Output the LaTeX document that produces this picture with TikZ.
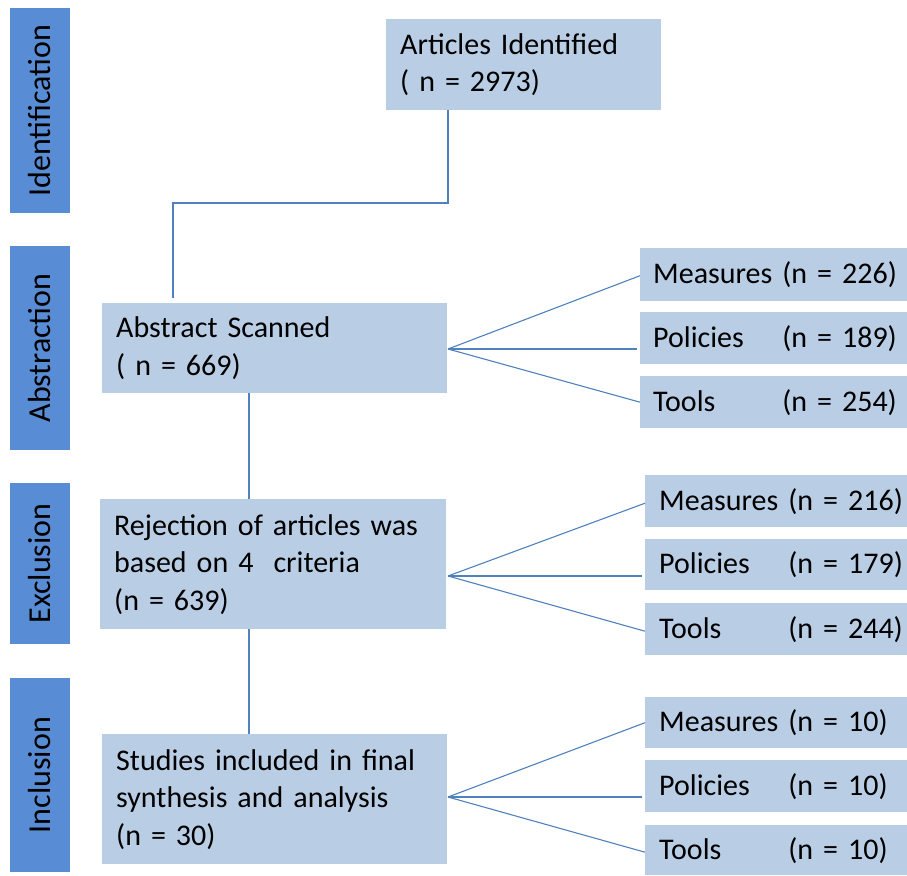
\documentclass[tikz,border=0pt]{standalone}
\usepackage{fontspec}
\setmainfont{Carlito}
\definecolor{boxc}{HTML}{B9CDE5}
\definecolor{labc}{HTML}{588DD5}
\definecolor{linec}{HTML}{4F81BD}
\DeclareRobustCommand\boxfont{\fontsize{30}{37.5}\selectfont\spaceskip=6.5pt\relax}
\begin{document}
\begin{tikzpicture}[x=1pt,y=-1pt,
  txt/.style={font=\boxfont},
  box/.style={txt, fill=boxc, draw=none, inner xsep=14pt, inner ysep=0pt, align=left, anchor=north west},
  sbox/.style={box, inner xsep=13pt},
  lab/.style={font=\fontsize{32}{38}\selectfont, fill=labc, draw=none, rotate=90, inner sep=0pt, minimum height=60pt},
  conn/.style={draw=linec, line width=1.1pt}]
\useasboundingbox (0,0) rectangle (907,875);

% stage labels
\node[lab, minimum width=205pt] (l1) at (40,110.5) {Identification};
\node[lab, minimum width=204pt] (l2) at (40,348) {Abstraction};
\node[lab, minimum width=161pt] (l3) at (40,563.5) {Exclusion};
\node[lab, minimum width=194pt] (l4) at (40,775) {Inclusion};

% main boxes
\node[box, text width=247pt, minimum height=91pt] (art) at (386,19) {Articles Identified\\( n = 2973)};
\node[box, text width=317pt, minimum height=90pt] (abs) at (102,303) {Abstract Scanned\\( n = 669)};
\node[box, text width=318pt, minimum height=130pt] (rej) at (100,499) {Rejection of articles was\\based on 4\ \ criteria\\(n = 639)};
\node[box, text width=317pt, minimum height=130pt] (stu) at (102,734) {Studies included in final\\synthesis and analysis\\(n = 30)};

% group 1
\node[sbox, text width=241pt, minimum height=53pt] (m1) at (640,248) {\mbox{Measures (n = 226)}};
\node[sbox, text width=241pt, minimum height=52pt] (p1) at (640,312) {\mbox{\rlap{Policies}\phantom{Measures} (n = 189)}};
\node[sbox, text width=241pt, minimum height=52pt] (t1) at (640,376) {\mbox{\rlap{Tools}\phantom{Measures} (n = 254)}};
% group 2
\node[box, text width=234pt, minimum height=52pt] (m2) at (645,475) {\mbox{Measures (n = 216)}};
\node[box, text width=234pt, minimum height=51pt] (p2) at (645,539) {\mbox{\rlap{Policies}\phantom{Measures} (n = 179)}};
\node[box, text width=234pt, minimum height=52pt] (t2) at (645,603) {\mbox{\rlap{Tools}\phantom{Measures} (n = 244)}};
% group 3
\node[box, text width=234pt, minimum height=51pt] (m3) at (645,697) {\mbox{Measures (n = 10)}};
\node[box, text width=234pt, minimum height=52pt] (p3) at (645,760) {\mbox{\rlap{Policies}\phantom{Measures} (n = 10)}};
\node[box, text width=234pt, minimum height=50pt] (t3) at (645,825) {\mbox{\rlap{Tools}\phantom{Measures} (n = 10)}};

% connectors
\coordinate (c1) at (448,203);
\coordinate (c2) at (173,203);
\coordinate (vx) at (249,0);
\draw[conn] (art.south -| c1) -- (c1) -- (c2) -- ([yshift=5pt]c2 |- abs.north);
\draw[conn] (abs.south -| vx) -- (rej.north -| vx);
\draw[conn] (rej.south -| vx) -- (stu.north -| vx);

\coordinate (f1) at (448,349);
\coordinate (f2) at (448,576);
\coordinate (f3) at (448,797);
\draw[conn] (f1) -- ([yshift=-1pt]m1.west);
\draw[conn, shorten >=3pt] (f1) -- (p1.west |- f1);
\draw[conn] (f1) -- (t1.west);
\draw[conn] (f2) -- ([yshift=-2pt]m2.west);
\draw[conn, shorten >=3pt] (f2) -- (p2.west |- f2);
\draw[conn] (f2) -- ([yshift=-2pt]t2.west);
\draw[conn] (f3) -- (m3.west);
\draw[conn, shorten >=3pt] (f3) -- (p3.west |- f3);
\draw[conn] (f3) -- ([yshift=-2pt]t3.west);
\end{tikzpicture}
\end{document}
